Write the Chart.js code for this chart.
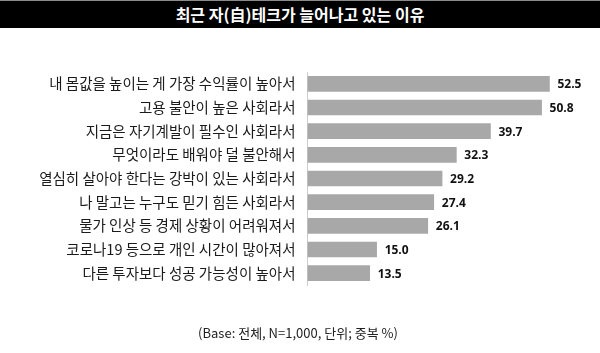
<!DOCTYPE html>
<html>
<head>
<meta charset="utf-8">
<script src="https://cdn.jsdelivr.net/npm/chart.js@4/dist/chart.umd.min.js"></script>
<style>
  html, body { margin: 0; padding: 0; background: #fff; }
  #wrap { position: relative; width: 600px; height: 353px; overflow: hidden; }
  #title { position: absolute; left: 0; top: 0; width: 600px; height: 27px; background: #000;
    border-top: 1px solid #8a8a8a; color: #fff; font-family: "Noto Sans CJK KR", "Noto Sans", sans-serif;
    font-weight: bold; font-size: 16px; line-height: 27px; text-align: center; }
  #note { position: absolute; left: 0; top: 323px; width: 596px; text-align: center;
    font-family: "Noto Sans CJK KR", "Noto Sans", sans-serif; font-size: 13px; color: #222; }
  canvas { position: absolute; left: 0; top: 0; }
</style>
</head>
<body>
<div id="wrap">
  <canvas id="c" width="600" height="353"></canvas>
  <div id="title">최근 자(自)테크가 늘어나고 있는 이유</div>
  <div id="note">(Base: 전체, N=1,000, 단위; 중복 %)</div>
</div>
<script>
const categories = [
  "내 몸값을 높이는 게 가장 수익률이 높아서",
  "고용 불안이 높은 사회라서",
  "지금은 자기계발이 필수인 사회라서",
  "무엇이라도 배워야 덜 불안해서",
  "열심히 살아야 한다는 강박이 있는 사회라서",
  "나 말고는 누구도 믿기 힘든 사회라서",
  "물가 인상 등 경제 상황이 어려워져서",
  "코로나19 등으로 개인 시간이 많아져서",
  "다른 투자보다 성공 가능성이 높아서"
];
const values = [52.5, 50.8, 39.7, 32.3, 29.2, 27.4, 26.1, 15.0, 13.5];

const valueLabels = {
  id: 'valueLabels',
  afterDatasetsDraw(chart) {
    const ctx = chart.ctx;
    const meta = chart.getDatasetMeta(0);
    ctx.save();
    ctx.font = 'bold 12px "Open Sans", "Noto Sans", sans-serif';
    ctx.fillStyle = '#111';
    ctx.textAlign = 'left';
    ctx.textBaseline = 'middle';
    meta.data.forEach((bar, i) => {
      ctx.fillText(values[i].toFixed(1), bar.x + 8, bar.y + 1);
    });
    ctx.restore();
  }
};

new Chart(document.getElementById('c'), {
  type: 'bar',
  data: {
    labels: categories,
    datasets: [{
      data: values,
      backgroundColor: '#a8a8a8',
      borderWidth: 0,
      barThickness: 15
    }]
  },
  options: {
    indexAxis: 'y',
    responsive: false,
    animation: false,
    events: [],
    layout: { padding: { top: 72, bottom: 68, right: 16, left: 0 } },
    plugins: { legend: { display: false }, tooltip: { enabled: false }, title: { display: false } },
    scales: {
      x: { display: false, min: 0, max: 60 },
      y: {
        afterFit(scale) { scale.width = 307.5; },
        grid: { display: false, drawTicks: false },
        border: { display: true, color: '#cccccc', width: 1 },
        ticks: {
          padding: 12,
          color: '#1a1a1a',
          font: { family: '"Noto Sans CJK KR", "Noto Sans", sans-serif', size: 14.5 }
        }
      }
    }
  },
  plugins: [valueLabels]
});
</script>
</body>
</html>
